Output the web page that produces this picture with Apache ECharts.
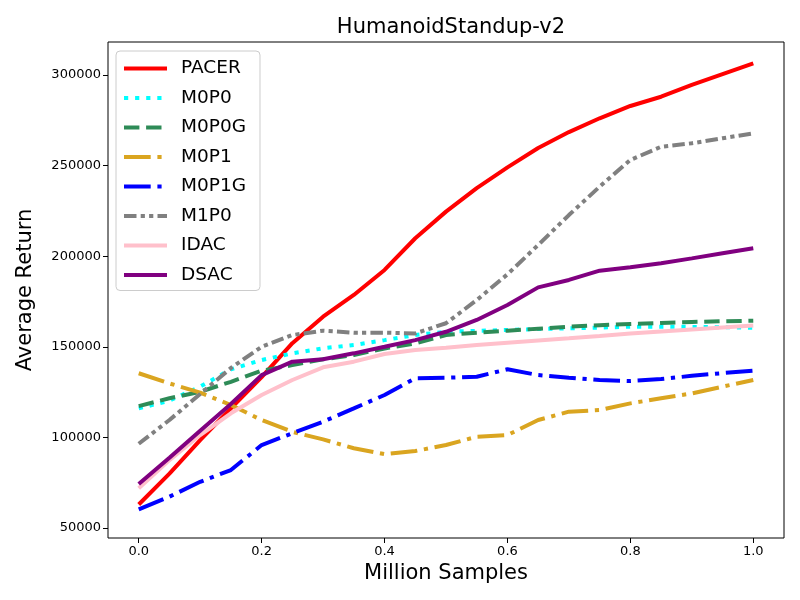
<!DOCTYPE html>
<html>
<head>
<meta charset="utf-8">
<script src="https://cdn.jsdelivr.net/npm/echarts@6/dist/echarts.min.js"></script>
<style>
  html, body { margin: 0; padding: 0; background: #fff; }
  #chart { width: 800px; height: 600px; }
</style>
</head>
<body>
<div id="chart"></div>
<script>
// million samples
const xs = [0, 0.05, 0.1, 0.15, 0.2, 0.25, 0.3, 0.35, 0.4, 0.45, 0.5, 0.55, 0.6, 0.65, 0.7, 0.75, 0.8, 0.85, 0.9, 0.95, 1.0];

const pacer = [63000, 80000, 98500, 116000, 133300, 152000, 166600, 178600, 192400, 209900, 224600, 237600, 249000, 259700, 268500, 276100, 282900, 288000, 294500, 300500, 306400];
const m0p0 = [116000, 120300, 128000, 137600, 142700, 146400, 149200, 151000, 153700, 156500, 158300, 158800, 159300, 159800, 160200, 160600, 161100, 161100, 161000, 160800, 160500];
const m0p0g = [117300, 121600, 125200, 130700, 136800, 139900, 143100, 145500, 149100, 151900, 156500, 157800, 158900, 160000, 161100, 161900, 162600, 163200, 163700, 164100, 164400];
const m0p1 = [135400, 129800, 124700, 117900, 109600, 103100, 98900, 94000, 90800, 92500, 95800, 100400, 101300, 109600, 114200, 115100, 118800, 121600, 124300, 128000, 131700];
const m0p1g = [60300, 67300, 75500, 82000, 95800, 102300, 108700, 116000, 123400, 132600, 132900, 133500, 137600, 134400, 132900, 131700, 131100, 132200, 134000, 135500, 136800];
const m1p0 = [96500, 109600, 124000, 138300, 150000, 156500, 158900, 157800, 157800, 157400, 163000, 175800, 190000, 206200, 222700, 238400, 253100, 260400, 262300, 265100, 267800];
const idac = [71900, 87500, 101300, 113300, 123400, 131700, 138700, 141800, 146000, 148200, 149500, 151000, 152300, 153500, 154700, 156000, 157400, 158500, 159600, 160700, 161700];
const dsac = [74300, 88800, 103700, 118400, 134400, 141800, 143100, 146400, 150000, 153700, 158300, 164800, 173100, 182800, 186900, 192000, 193900, 196100, 198800, 201600, 204400];

const xTicks = [0, 0.2, 0.4, 0.6, 0.8, 1.0];
const yTicks = [50000, 100000, 150000, 200000, 250000, 300000];

const font = 'DejaVu Sans';

const chart = echarts.init(document.getElementById('chart'));

function makeSeries(name, values, color, dash) {
    return {
        name: name,
        type: 'line',
        data: values.map((v, i) => [xs[i], v]),
        symbol: 'none',
        smooth: false,
        lineStyle: { color: color, width: 4, type: dash, cap: 'butt' },
        itemStyle: { color: color },
        animation: false
    };
}

const dashdot = [26.7, 6.7, 4.2, 6.7];

chart.setOption({
    backgroundColor: '#ffffff',
    title: {
        text: 'HumanoidStandup-v2',
        left: 446,
        textAlign: 'center',
        top: 12,
        textStyle: { fontFamily: font, fontSize: 21, fontWeight: 'normal', color: '#000' }
    },
    grid: {
        left: 108,
        right: 16,
        top: 42,
        bottom: 62,
        show: true,
        borderColor: '#000',
        borderWidth: 1,
        backgroundColor: 'transparent'
    },
    legend: {
        orient: 'vertical',
        left: 116,
        top: 51,
        padding: [8, 14, 6, 6],
        itemWidth: 43,
        itemHeight: 14,
        itemGap: 10.5,
        borderColor: '#cccccc',
        borderWidth: 1,
        borderRadius: 4,
        backgroundColor: 'rgba(255,255,255,0.8)',
        itemStyle: { opacity: 0 },
        lineStyle: { width: 4 },
        textStyle: { fontFamily: font, fontSize: 18.5, color: '#000', padding: [0, 0, 0, 9] },
        data: ['PACER', 'M0P0', 'M0P0G', 'M0P1', 'M0P1G', 'M1P0', 'IDAC', 'DSAC']
    },
    xAxis: {
        type: 'value',
        min: -0.05,
        max: 1.05,
        name: 'Million Samples',
        nameLocation: 'middle',
        nameGap: 24,
        nameTextStyle: { fontFamily: font, fontSize: 21, color: '#000' },
        axisLine: { show: false, onZero: false },
        axisTick: { show: true, inside: false, length: 5, lineStyle: { color: '#000' }, customValues: xTicks },
        axisLabel: {
            fontFamily: font, fontSize: 13, color: '#000', margin: 7,
            customValues: xTicks,
            formatter: v => v.toFixed(1)
        },
        splitLine: { show: false }
    },
    yAxis: {
        type: 'value',
        min: 44500,
        max: 318200,
        name: 'Average Return',
        nameLocation: 'middle',
        nameGap: 72,
        nameTextStyle: { fontFamily: font, fontSize: 21, color: '#000' },
        axisLine: { show: false, onZero: false },
        axisTick: { show: true, inside: false, length: 5, lineStyle: { color: '#000' }, customValues: yTicks },
        axisLabel: {
            fontFamily: font, fontSize: 13, color: '#000', margin: 7,
            customValues: yTicks,
            formatter: v => String(v)
        },
        splitLine: { show: false }
    },
    series: [
        makeSeries('PACER', pacer, '#ff0000', 'solid'),
        makeSeries('M0P0', m0p0, '#00ffff', [4.2, 6.9]),
        makeSeries('M0P0G', m0p0g, '#2e8b57', [15.4, 6.7]),
        makeSeries('M0P1', m0p1, '#daa520', dashdot),
        makeSeries('M0P1G', m0p1g, '#0000ff', dashdot),
        makeSeries('M1P0', m1p0, '#808080', [12.5, 4.2, 4.2, 4.2, 4.2, 4.2]),
        makeSeries('IDAC', idac, '#ffc0cb', 'solid'),
        makeSeries('DSAC', dsac, '#800080', 'solid')
    ]
});

window.addEventListener('resize', () => chart.resize());
</script>
</body>
</html>
